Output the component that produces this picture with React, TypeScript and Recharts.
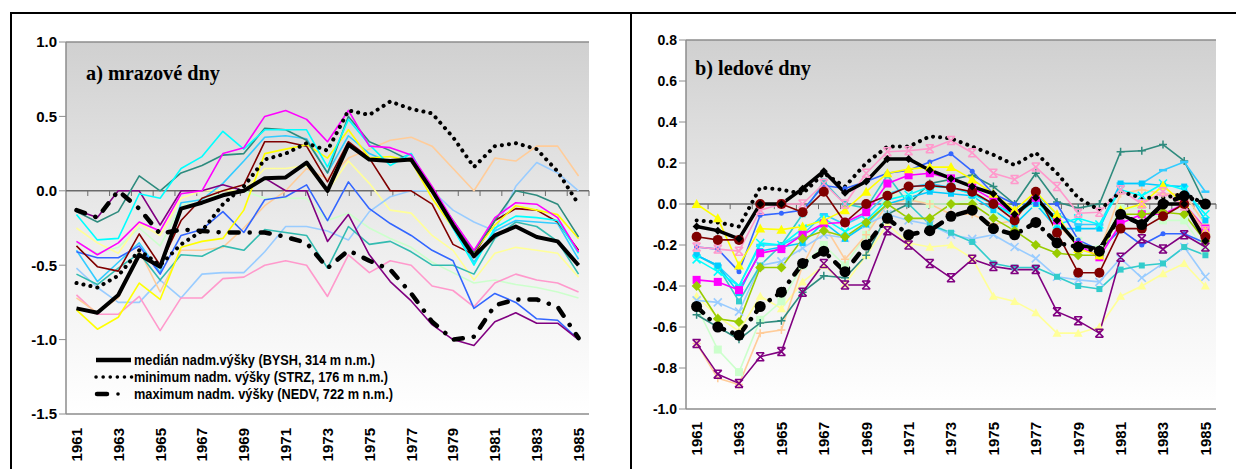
import React from "react";
import { LineChart, Line, XAxis, YAxis, ReferenceLine, CartesianGrid } from "recharts";

const years = [
  "1961", "1962", "1963", "1964", "1965", "1966", "1967", "1968", "1969", "1970",
  "1971", "1972", "1973", "1974", "1975", "1976", "1977", "1978", "1979", "1980",
  "1981", "1982", "1983", "1984", "1985",
];

// a) mrazové dny
const medianA = [-0.79, -0.82, -0.7, -0.43, -0.51, -0.12, -0.08, -0.03, 0.0, 0.085, 0.09, 0.19, 0.0, 0.31, 0.21, 0.2, 0.21, 0.0, -0.23, -0.44, -0.3, -0.24, -0.31, -0.34, -0.5];
const minA = [-0.62, -0.65, -0.57, -0.4, -0.5, -0.36, -0.27, -0.09, 0.03, 0.21, 0.25, 0.32, 0.27, 0.54, 0.51, 0.6, 0.55, 0.52, 0.36, 0.16, 0.3, 0.32, 0.28, 0.13, -0.09];
const maxA = [-0.13, -0.18, 0.0, -0.12, -0.29, -0.26, -0.27, -0.28, -0.28, -0.28, -0.31, -0.35, -0.52, -0.4, -0.47, -0.53, -0.69, -0.88, -1.0, -0.98, -0.77, -0.73, -0.73, -0.78, -0.99];
const magentaA = [-0.34, -0.43, -0.35, -0.21, -0.27, -0.02, 0.0, 0.25, 0.29, 0.5, 0.54, 0.48, 0.33, 0.54, 0.3, 0.29, 0.24, 0.03, -0.2, -0.4, -0.18, -0.08, -0.09, -0.18, -0.41];
const cyanA = [-0.16, -0.33, -0.32, -0.02, -0.05, 0.15, 0.23, 0.4, 0.28, 0.41, 0.41, 0.41, 0.16, 0.48, 0.31, 0.17, 0.25, 0.0, -0.25, -0.5, -0.25, -0.17, -0.18, -0.2, -0.42];
const tealA = [-0.14, -0.21, -0.14, 0.1, 0.0, 0.12, 0.17, 0.24, 0.25, 0.42, 0.41, 0.34, 0.12, 0.5, 0.33, 0.27, 0.2, 0.0, -0.2, -0.41, -0.2, 0.0, -0.03, -0.09, -0.31];
const darkRedA = [-0.37, -0.51, -0.54, -0.29, -0.5, -0.2, -0.05, 0.0, 0.04, 0.33, 0.33, 0.3, 0.06, 0.33, 0.22, 0.0, 0.0, -0.09, -0.36, -0.43, -0.2, -0.12, -0.13, -0.21, -0.4];
const yellowA = [-0.8, -0.93, -0.85, -0.62, -0.73, -0.38, -0.34, -0.32, -0.13, 0.25, 0.28, 0.31, 0.22, 0.41, 0.22, 0.23, 0.2, -0.05, -0.25, -0.41, -0.23, -0.1, -0.13, -0.16, -0.32];
const blueA = [-0.41, -0.45, -0.45, -0.37, -0.56, -0.3, -0.26, -0.14, -0.28, -0.06, -0.04, 0.04, -0.2, 0.06, -0.12, -0.22, -0.3, -0.4, -0.47, -0.79, -0.69, -0.75, -0.86, -0.87, -1.0];
const purpleA = [-0.13, -0.18, 0.0, 0.0, -0.23, 0.0, 0.0, 0.04, 0.0, 0.085, 0.0, 0.0, -0.34, -0.16, -0.43, -0.61, -0.74, -0.9, -1.0, -1.04, -0.88, -0.82, -0.89, -0.89, -1.0];
const skyA = [-0.4, -0.61, -0.48, -0.35, -0.55, -0.08, -0.06, 0.05, 0.2, 0.36, 0.37, 0.35, 0.12, 0.37, 0.25, 0.19, 0.25, 0.0, -0.25, -0.48, -0.27, -0.2, -0.21, -0.22, -0.46];
const turqA = [-0.56, -0.63, -0.52, -0.42, -0.6, -0.43, -0.44, -0.37, -0.4, -0.26, -0.28, -0.3, -0.52, -0.24, -0.36, -0.34, -0.41, -0.5, -0.5, -0.56, -0.32, -0.21, -0.24, -0.34, -0.56];
const lightBlueA = [-0.52, -0.65, -0.75, -0.75, -0.6, -0.72, -0.56, -0.55, -0.55, -0.41, -0.24, -0.24, -0.27, -0.33, -0.14, -0.04, 0.0, 0.0, -0.13, -0.21, -0.27, 0.03, 0.19, 0.12, 0.0];
const pinkA = [-0.7, -0.83, -0.83, -0.71, -0.94, -0.72, -0.72, -0.59, -0.58, -0.5, -0.47, -0.5, -0.71, -0.43, -0.55, -0.47, -0.5, -0.64, -0.67, -0.78, -0.62, -0.56, -0.6, -0.62, -0.68];
const peachA = [-0.72, -0.82, -0.72, -0.4, -0.68, -0.4, -0.4, -0.38, -0.25, -0.1, 0.0, 0.15, 0.08, 0.22, 0.28, 0.34, 0.36, 0.3, 0.15, 0.0, 0.22, 0.2, 0.3, 0.3, 0.1];
const lightGreenA = [-0.35, -0.42, -0.38, -0.25, -0.37, -0.1, -0.05, -0.02, 0.0, -0.05, -0.05, -0.05, -0.2, -0.15, -0.25, -0.32, -0.38, -0.48, -0.55, -0.62, -0.6, -0.63, -0.65, -0.68, -0.72];
const lightYellowA = [-0.25, -0.35, -0.42, -0.22, -0.3, -0.05, 0.0, 0.0, 0.0, 0.15, 0.15, 0.17, 0.0, 0.2, 0.05, -0.13, -0.15, -0.3, -0.4, -0.6, -0.42, -0.38, -0.4, -0.42, -0.58];

// b) ledové dny
const medianB = [-0.11, -0.13, -0.17, 0.0, 0.0, 0.075, 0.16, 0.055, 0.11, 0.22, 0.22, 0.165, 0.125, 0.085, 0.05, -0.05, 0.03, -0.08, -0.2, -0.22, -0.05, -0.1, 0.0, 0.0, -0.18];
const minB = [-0.08, -0.09, -0.11, 0.08, 0.07, 0.05, 0.15, 0.085, 0.2, 0.28, 0.28, 0.33, 0.32, 0.28, 0.24, 0.19, 0.25, 0.15, 0.03, -0.03, 0.06, 0.03, 0.03, 0.05, 0.0];
const maxB = [-0.5, -0.6, -0.64, -0.5, -0.43, -0.29, -0.23, -0.33, -0.2, -0.07, -0.15, -0.13, -0.06, -0.03, -0.12, -0.15, -0.09, -0.19, -0.21, -0.23, -0.05, -0.1, 0.0, 0.04, 0.0];
const darkRedB = [-0.16, -0.175, -0.175, 0.0, 0.0, -0.04, 0.06, -0.09, 0.0, 0.04, 0.085, 0.09, 0.08, 0.06, 0.0, -0.08, 0.06, -0.14, -0.335, -0.335, -0.12, -0.12, -0.06, 0.0, -0.16];
const pinkB = [-0.21, -0.22, -0.23, -0.03, 0.0, 0.0, 0.1, 0.0, 0.15, 0.255, 0.26, 0.27, 0.31, 0.25, 0.15, 0.12, 0.18, 0.085, -0.045, -0.04, 0.07, 0.0, 0.06, -0.01, -0.13];
const tealB = [-0.54, -0.6, -0.66, -0.58, -0.57, -0.43, -0.35, -0.36, -0.25, -0.05, 0.0, 0.1, 0.12, 0.14, 0.085, 0.0, 0.15, 0.01, -0.02, 0.0, 0.255, 0.26, 0.29, 0.21, 0.0];
const purpleB = [-0.68, -0.83, -0.875, -0.745, -0.72, -0.43, -0.29, -0.395, -0.395, -0.13, -0.2, -0.29, -0.36, -0.27, -0.305, -0.32, -0.32, -0.525, -0.57, -0.63, -0.26, -0.17, -0.22, -0.15, -0.21];
const yellowB = [0.0, -0.07, -0.3, -0.12, -0.125, -0.11, -0.08, -0.03, 0.06, 0.15, 0.17, 0.18, 0.18, 0.12, 0.05, -0.03, 0.06, -0.05, -0.22, -0.25, -0.03, 0.0, 0.09, 0.0, -0.13];
const lightYellowB = [-0.45, -0.55, -0.62, -0.45, -0.51, -0.38, -0.3, -0.39, -0.25, -0.1, -0.19, -0.21, -0.2, -0.265, -0.45, -0.475, -0.53, -0.63, -0.63, -0.6, -0.45, -0.4, -0.34, -0.29, -0.4];
const greenB = [-0.4, -0.56, -0.575, -0.31, -0.31, -0.17, -0.13, -0.16, -0.09, 0.0, -0.07, -0.07, 0.0, 0.0, -0.07, -0.13, -0.2, -0.24, -0.25, -0.25, -0.05, -0.05, -0.04, -0.05, -0.18];
const magentaB = [-0.37, -0.38, -0.42, -0.24, -0.22, -0.15, -0.095, -0.09, -0.04, 0.1, 0.14, 0.15, 0.125, 0.08, 0.02, -0.05, 0.03, -0.08, -0.2, -0.26, -0.095, -0.05, -0.05, 0.0, -0.12];
const cyanB = [-0.27, -0.33, -0.4, -0.19, -0.2, -0.12, -0.07, -0.135, -0.08, 0.02, 0.045, 0.085, 0.08, 0.05, 0.0, -0.06, 0.02, -0.1, -0.07, -0.1, 0.07, 0.04, 0.1, 0.07, -0.05];
const skyB = [-0.25, -0.3, -0.435, -0.23, -0.21, -0.19, -0.09, -0.17, -0.1, 0.0, 0.03, 0.06, 0.05, 0.04, -0.03, -0.1, 0.0, -0.12, -0.12, -0.12, 0.1, 0.1, 0.09, 0.085, -0.08];
const skyPlusB = [-0.25, -0.3, -0.4, -0.2, -0.2, -0.15, -0.05, -0.1, -0.05, 0.05, 0.08, 0.1, 0.08, 0.05, 0.0, -0.05, 0.05, -0.05, -0.1, -0.1, 0.1, 0.1, 0.165, 0.205, 0.06];
const blueB = [-0.21, -0.22, -0.33, -0.055, -0.045, -0.03, 0.09, 0.076, 0.11, 0.15, 0.165, 0.205, 0.245, 0.16, 0.05, 0.0, 0.0, 0.0, -0.175, -0.225, -0.125, -0.2, -0.145, -0.145, -0.19];
const lightBlueB = [-0.47, -0.48, -0.525, -0.3, -0.28, -0.215, -0.15, -0.165, -0.1, -0.05, -0.08, -0.1, -0.15, -0.17, -0.15, -0.21, -0.265, -0.355, -0.37, -0.38, -0.265, -0.36, -0.29, -0.21, -0.355];
const turqB = [-0.25, -0.305, -0.475, -0.3, -0.2, -0.05, 0.11, 0.0, -0.02, 0.14, 0.0, -0.1, -0.14, -0.185, -0.29, -0.31, -0.31, -0.355, -0.4, -0.415, -0.32, -0.3, -0.29, -0.21, -0.25];
const peachB = [-0.68, -0.85, -0.88, -0.63, -0.615, -0.3, -0.1, -0.27, -0.15, 0.0, 0.02, 0.0, -0.05, -0.05, -0.1, -0.08, 0.05, -0.1, -0.2, -0.23, 0.05, 0.07, 0.05, 0.05, -0.1];
const lightGreenB = [-0.5, -0.71, -0.82, -0.565, -0.475, -0.3, -0.2, -0.3, -0.15, 0.05, 0.03, 0.0, 0.0, 0.02, -0.05, -0.1, 0.0, -0.1, -0.18, -0.22, -0.02, -0.02, -0.08, -0.08, -0.23];

const ticksA = [-1.5, -1, -0.5, 0, 0.5, 1];
const ticksB = [-1, -0.8, -0.6, -0.4, -0.2, 0, 0.2, 0.4, 0.6, 0.8];
const bounds = [1, 2, 3, 4, 5, 6, 7, 8, 9, 10, 11, 12, 13, 14, 15, 16, 17, 18, 19, 20, 21, 22, 23, 24];

const FONT = "'Liberation Sans', Arial, sans-serif";
const FRAME = "#8c8c8c";

type Series = {
  key: string;
  values: number[];
  color: string;
  width?: number;
  dash?: string;
  marker?: string;
  size?: number;
};

const seriesA: Series[] = [
  { key: "lightGreenA", values: lightGreenA, color: "#CCFFCC" },
  { key: "lightYellowA", values: lightYellowA, color: "#FFFF99" },
  { key: "lightBlueA", values: lightBlueA, color: "#99CCFF" },
  { key: "pinkA", values: pinkA, color: "#FF99CC" },
  { key: "peachA", values: peachA, color: "#FFCC99" },
  { key: "turqA", values: turqA, color: "#33BBB0" },
  { key: "skyA", values: skyA, color: "#33CCFF" },
  { key: "blueA", values: blueA, color: "#3366FF" },
  { key: "purpleA", values: purpleA, color: "#800080" },
  { key: "darkRedA", values: darkRedA, color: "#800000" },
  { key: "yellowA", values: yellowA, color: "#FFFF00" },
  { key: "tealA", values: tealA, color: "#2E8B7E" },
  { key: "cyanA", values: cyanA, color: "#00FFFF" },
  { key: "magentaA", values: magentaA, color: "#FF00FF" },
  { key: "maxA", values: maxA, color: "#000", width: 4.5, dash: "9 11 0.1 11" },
  { key: "minA", values: minA, color: "#000", width: 4, dash: "0.1 7" },
  { key: "medianA", values: medianA, color: "#000", width: 4 },
];

const seriesB: Series[] = [
  { key: "lightYellowB", values: lightYellowB, color: "#FFFF99", marker: "triangle", size: 4.5 },
  { key: "lightGreenB", values: lightGreenB, color: "#CCFFCC", marker: "square", size: 4 },
  { key: "peachB", values: peachB, color: "#FFCC99", marker: "plus", size: 4 },
  { key: "lightBlueB", values: lightBlueB, color: "#99CCFF", marker: "x", size: 4 },
  { key: "turqB", values: turqB, color: "#33CCCC", marker: "square", size: 3 },
  { key: "tealB", values: tealB, color: "#2E8B7E", marker: "plus", size: 4 },
  { key: "skyPlusB", values: skyPlusB, color: "#33CCFF", marker: "dash", size: 4 },
  { key: "skyB", values: skyB, color: "#00CCFF", marker: "square", size: 3 },
  { key: "cyanB", values: cyanB, color: "#00FFFF", marker: "x", size: 4 },
  { key: "blueB", values: blueB, color: "#3366FF", marker: "circle", size: 2.5 },
  { key: "magentaB", values: magentaB, color: "#FF00FF", marker: "square", size: 4 },
  { key: "greenB", values: greenB, color: "#99CC00", marker: "diamond", size: 5 },
  { key: "yellowB", values: yellowB, color: "#FFFF00", marker: "triangle", size: 5 },
  { key: "pinkB", values: pinkB, color: "#FF99CC", marker: "star", size: 4 },
  { key: "purpleB", values: purpleB, color: "#800080", marker: "star", size: 4 },
  { key: "darkRedB", values: darkRedB, color: "#800000", marker: "circle", size: 5 },
  { key: "maxB", values: maxB, color: "#000", width: 4.5, dash: "9 9 0.1 9", marker: "circle", size: 5.5 },
  { key: "minB", values: minB, color: "#000", width: 4, dash: "0.1 7" },
  { key: "medianB", values: medianB, color: "#000", width: 3.5, marker: "diamond", size: 4 },
];

function buildRows(series: Series[]) {
  return years.map((year, i) => {
    const row: any = { year };
    series.forEach((s) => (row[s.key] = s.values[i]));
    return row;
  });
}

function Marker({ cx, cy, shape, color, size }: any) {
  if (cx == null || cy == null) return null;
  const s = size;
  switch (shape) {
    case "circle":
      return <circle cx={cx} cy={cy} r={s} fill={color} />;
    case "square":
      return <rect x={cx - s} y={cy - s} width={2 * s} height={2 * s} fill={color} />;
    case "diamond":
      return <polygon points={`${cx},${cy - s} ${cx + s},${cy} ${cx},${cy + s} ${cx - s},${cy}`} fill={color} />;
    case "triangle":
      return <polygon points={`${cx},${cy - s} ${cx + s},${cy + s * 0.8} ${cx - s},${cy + s * 0.8}`} fill={color} />;
    case "x":
      return (
        <path d={`M${cx - s},${cy - s}L${cx + s},${cy + s}M${cx + s},${cy - s}L${cx - s},${cy + s}`} stroke={color} strokeWidth={1.6} />
      );
    case "star":
      return (
        <path
          d={`M${cx - s},${cy - s}L${cx + s},${cy + s}M${cx + s},${cy - s}L${cx - s},${cy + s}M${cx - s},${cy - s}L${cx + s},${cy - s}M${cx - s},${cy + s}L${cx + s},${cy + s}`}
          stroke={color}
          strokeWidth={1.5}
        />
      );
    case "plus":
      return <path d={`M${cx - s},${cy}L${cx + s},${cy}M${cx},${cy - s}L${cx},${cy + s}`} stroke={color} strokeWidth={1.5} />;
    case "dash":
      return <path d={`M${cx - s},${cy}L${cx + s},${cy}`} stroke={color} strokeWidth={2.5} />;
    default:
      return null;
  }
}

const YearTick = ({ x, y, payload }: any) => (
  <text
    x={x}
    y={y}
    transform={`rotate(-90, ${x}, ${y})`}
    textAnchor="end"
    dy="0.36em"
    fontSize={15}
    fontWeight="bold"
    fontFamily={FONT}
    fill="#000"
  >
    {payload.value}
  </text>
);

const makeValueTick = (fontSize: number) => ({ x, y, payload }: any) => (
  <text x={x} y={y} dy="0.36em" textAnchor="end" fontSize={fontSize} fontWeight="bold" fontFamily={FONT} fill="#000">
    {Number(payload.value).toFixed(1)}
  </text>
);

function Panel({ series, domain, ticks, width, height, margin, pad, yWidth, xHeight, labelGap, yFont, tickLen, axisTick }: any) {
  const rows = buildRows(series);
  return (
    <LineChart width={width} height={height} data={rows} margin={margin}>
      <defs>
        <linearGradient id="plotBg" x1="0" y1="0" x2="0" y2="1">
          <stop offset="0%" stopColor="#d0d0d0" />
          <stop offset="55%" stopColor="#eeeeee" />
          <stop offset="100%" stopColor="#ffffff" />
        </linearGradient>
      </defs>
      <CartesianGrid horizontal={false} vertical={false} fill="url(#plotBg)" fillOpacity={1} />
      <XAxis
        dataKey="year"
        interval={1}
        padding={{ left: pad, right: pad }}
        axisLine={false}
        tickLine={false}
        tickSize={0}
        tickMargin={labelGap}
        height={xHeight}
        tick={<YearTick />}
      />
      <XAxis xAxisId="num" type="number" domain={[0, 25]} hide allowDataOverflow />
      <YAxis
        domain={domain}
        ticks={ticks}
        interval={0}
        width={yWidth}
        axisLine={false}
        tickLine={{ stroke: FRAME }}
        tickSize={axisTick}
        tickMargin={2}
        tick={makeValueTick(yFont)}
        allowDataOverflow
      />
      <ReferenceLine xAxisId="num" y={domain[1]} stroke={FRAME} strokeWidth={1.5} />
      <ReferenceLine xAxisId="num" y={domain[0]} stroke={FRAME} strokeWidth={1.5} />
      <ReferenceLine xAxisId="num" x={0} stroke={FRAME} strokeWidth={1.5} />
      <ReferenceLine xAxisId="num" x={25} stroke={FRAME} strokeWidth={1.5} />
      <ReferenceLine xAxisId="num" y={0} stroke="#6a6a6a" strokeWidth={1.5} />
      {bounds.map((k) => (
        <ReferenceLine
          key={k}
          xAxisId="num"
          segment={[
            { x: k, y: 0 },
            { x: k, y: -tickLen },
          ]}
          stroke="#6a6a6a"
          strokeWidth={1}
        />
      ))}
      {series.map((s: Series) => (
        <Line
          key={s.key}
          dataKey={s.key}
          stroke={s.color}
          strokeWidth={s.width ?? 1.6}
          strokeDasharray={s.dash}
          strokeLinecap={s.dash ? "round" : "butt"}
          strokeLinejoin="round"
          dot={
            s.marker
              ? (p: any) => (
                  <Marker key={`${s.key}-${p.index}`} cx={p.cx} cy={p.cy} shape={s.marker} color={s.color} size={s.size} />
                )
              : false
          }
          activeDot={false}
          isAnimationActive={false}
        />
      ))}
    </LineChart>
  );
}

export default function App() {
  return (
    <div style={{ position: "absolute", left: 0, top: 0, width: 1236, height: 469, background: "#fff", overflow: "hidden", fontFamily: FONT }}>
      <div style={{ position: "absolute", left: 10, top: 12, width: 1230, height: 2, background: "#000" }} />
      <div style={{ position: "absolute", left: 10, top: 12, width: 2, height: 460, background: "#000" }} />
      <div style={{ position: "absolute", left: 630, top: 12, width: 2, height: 460, background: "#000" }} />

      <div style={{ position: "absolute", left: 0, top: 0 }}>
        <Panel
          series={seriesA}
          domain={[-1.5, 1]}
          ticks={ticksA}
          width={620}
          height={469}
          margin={{ top: 42, right: 31, bottom: 0, left: 0 }}
          pad={10.46}
          yWidth={66}
          xHeight={55}
          labelGap={14}
          yFont={15}
          tickLen={0.035}
          axisTick={7}
        />
      </div>
      <div style={{ position: "absolute", left: 620, top: 0 }}>
        <Panel
          series={seriesB}
          domain={[-1, 0.8]}
          ticks={ticksB}
          width={616}
          height={469}
          margin={{ top: 40, right: 20, bottom: 0, left: 0 }}
          pad={10.6}
          yWidth={66}
          xHeight={60}
          labelGap={13}
          yFont={14}
          tickLen={0.025}
          axisTick={7}
        />
      </div>

      <svg width={1236} height={469} style={{ position: "absolute", left: 0, top: 0, pointerEvents: "none" }}>
        <text x={86} y={80} fontFamily="'Liberation Serif', 'Times New Roman', serif" fontWeight="bold" fontSize={22} textLength={134} lengthAdjust="spacingAndGlyphs" fill="#000">
          a) mrazové dny
        </text>
        <text x={695} y={75} fontFamily="'Liberation Serif', 'Times New Roman', serif" fontWeight="bold" fontSize={22} textLength={116} lengthAdjust="spacingAndGlyphs" fill="#000">
          b) ledové dny
        </text>

        <line x1={96} y1={360} x2={131} y2={360} stroke="#000" strokeWidth={4.5} />
        <line x1={96} y1={377} x2={132} y2={377} stroke="#000" strokeWidth={3.5} strokeDasharray="0.1 7" strokeLinecap="round" />
        <line x1={97} y1={394} x2={107} y2={394} stroke="#000" strokeWidth={4.5} strokeLinecap="round" />
        <circle cx={118} cy={394} r={1.8} fill="#000" />
        <g fontFamily={FONT} fontWeight="bold" fontSize={14} fill="#000">
          <text x={134} y={365} textLength={241} lengthAdjust="spacingAndGlyphs">
            medián nadm.výšky (BYSH, 314 m n.m.)
          </text>
          <text x={134} y={382} textLength={254} lengthAdjust="spacingAndGlyphs">
            minimum nadm. výšky (STRZ, 176 m n.m.)
          </text>
          <text x={134} y={399} textLength={259} lengthAdjust="spacingAndGlyphs">
            maximum nadm. výšky (NEDV, 722 m n.m.)
          </text>
        </g>
      </svg>
    </div>
  );
}
